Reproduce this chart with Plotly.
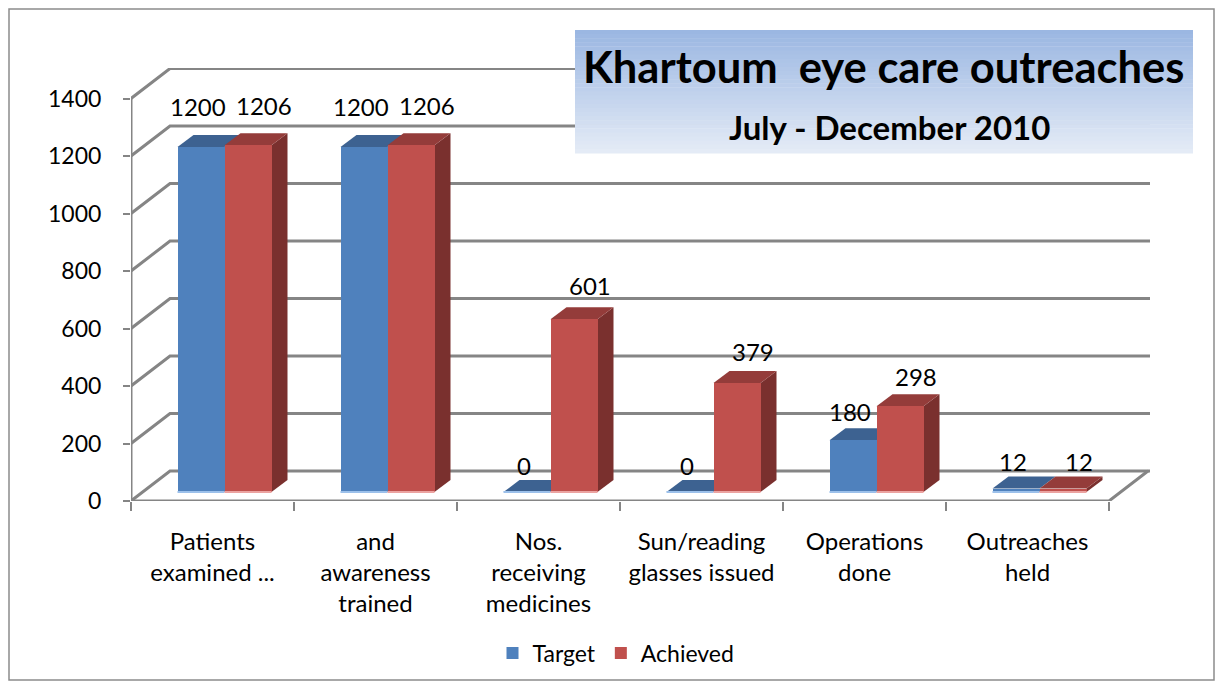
import plotly.graph_objects as go

# ---------------- data ----------------
categories = ["Patients<br>examined ...", "and<br>awareness<br>trained", "Nos.<br>receiving<br>medicines",
              "Sun/reading<br>glasses issued", "Operations<br>done", "Outreaches<br>held"]
target = [1200, 1200, 0, 0, 180, 12]
achieved = [1206, 1206, 601, 379, 298, 12]
y_ticks = [0, 200, 400, 600, 800, 1000, 1200, 1400]
title_text = "Khartoum  eye care outreaches"
subtitle_text = "July - December 2010"

# ---------------- geometry (pixel-based styling) ----------------
OFF = 8                         # page body margin
W, H = 1223 - OFF, 689 - OFF
ML = 131 - OFF
MR = W - (1150 - OFF)
MT = 68 - OFF
MB = H - (501 - OFF)
PW, PH = W - ML - MR, H - MT - MB
KX = 163.0                      # px per category
KY = 0.2875                     # px per value unit
Y0 = -9 / KY                    # front floor relative to bar base
XR = [-0.5, -0.5 + PW / KX]
YR = [Y0, Y0 + PH / KY]
WALL_DX, WALL_DY = 39 / KX, 30 / KY
BAR_DX, BAR_DY = 16 / KX, 12 / KY
BAR_W = 47 / KX
GROUP_SHIFT = 12 / KX
LBL_DX_BLUE, LBL_DX_RED = -3 / KX, 16 / KX


def lbl_dy(v):
    # labels of taller 3D bars sit a little higher (perspective)
    return 27 + 0.011 * v


BLUE, BLUE_TOP, BLUE_EDGE = "#4F81BD", "#3D6291", "#9CC0EA"
RED, RED_TOP, RED_SIDE, RED_EDGE = "#C0504D", "#943C3A", "#7A302E", "#EBA3A1"
GRID = "#858585"

def px_x(p):
    return (p - OFF - ML) / PW

def px_y(p):
    return (H - MB - (p - OFF)) / PH

n = len(categories)
xb = [i + GROUP_SHIFT - BAR_W / 2 for i in range(n)]
xr = [i + GROUP_SHIFT + BAR_W / 2 for i in range(n)]

fig = go.Figure()
fig.add_trace(go.Bar(x=xb, y=target, width=BAR_W, name="Target", marker=dict(color=BLUE, line=dict(width=0))))
fig.add_trace(go.Bar(x=xr, y=achieved, width=BAR_W, name="Achieved", marker=dict(color=RED, line=dict(width=0))))

shapes = []
# walls / gridlines
for v in y_ticks:
    yf, yb = v + Y0, v + Y0 + WALL_DY
    shapes.append(dict(type="path", xref="x", yref="y", layer="below",
                       path=f"M {XR[0]},{yf} L {XR[0]+WALL_DX},{yb} L {XR[1]},{yb}",
                       line=dict(color=GRID, width=3)))
# front y axis line
shapes.append(dict(type="line", xref="x", yref="y", layer="below", x0=XR[0], x1=XR[0],
                   y0=Y0, y1=y_ticks[-1] + Y0, line=dict(color=GRID, width=3)))
# floor front edge and right edge
fx1 = n - 0.5
shapes.append(dict(type="path", xref="x", yref="y", layer="below",
                   path=f"M {XR[0]},{Y0} L {fx1},{Y0} L {fx1+WALL_DX},{Y0+WALL_DY}",
                   line=dict(color=GRID, width=3)))

# bar depth faces
def quad(pts, color):
    p = "M " + " L ".join(f"{a},{b}" for a, b in pts) + " Z"
    return dict(type="path", xref="x", yref="y", layer="below", path=p,
                fillcolor=color, line=dict(width=0))

for i in range(n):
    x0, x1, v = xb[i] - BAR_W / 2, xb[i] + BAR_W / 2, target[i]
    shapes.append(quad([(x0, v), (x1, v), (x1 + BAR_DX, v + BAR_DY), (x0 + BAR_DX, v + BAR_DY)], BLUE_TOP))
for i in range(n):
    x0, x1, v = xr[i] - BAR_W / 2, xr[i] + BAR_W / 2, achieved[i]
    shapes.append(quad([(x1, 0), (x1, v), (x1 + BAR_DX, v + BAR_DY), (x1 + BAR_DX, BAR_DY)], RED_SIDE))
    shapes.append(quad([(x0, v), (x1, v), (x1 + BAR_DX, v + BAR_DY), (x0 + BAR_DX, v + BAR_DY)], RED_TOP))
# light base edges
for i in range(n):
    shapes.append(dict(type="line", xref="x", yref="y", layer="above", x0=xb[i] - BAR_W / 2, x1=xb[i] + BAR_W / 2,
                       y0=0, y1=0, line=dict(color=BLUE_EDGE, width=2)))
    shapes.append(dict(type="line", xref="x", yref="y", layer="above", x0=xr[i] - BAR_W / 2, x1=xr[i] + BAR_W / 2,
                       y0=0, y1=0, line=dict(color=RED_EDGE, width=2)))

# title box with gradient strips
bx0, bx1, by0, by1 = 575, 1193, 30, 153
c_top, c_bot = (155, 183, 226), (228, 235, 246)
N = 30
for k in range(N):
    t = k / (N - 1)
    c = tuple(round(c_top[j] + (c_bot[j] - c_top[j]) * t) for j in range(3))
    ya = by0 + (by1 - by0) * k / N
    yb2 = by0 + (by1 - by0) * (k + 1) / N
    shapes.append(dict(type="rect", xref="paper", yref="paper", layer="above",
                       x0=px_x(bx0), x1=px_x(bx1), y0=px_y(ya), y1=px_y(yb2) - 0.001,
                       fillcolor=f"rgb{c}", line=dict(width=0)))
# outer border
shapes.append(dict(type="rect", xref="paper", yref="paper", layer="above",
                   x0=px_x(9), x1=px_x(1214), y0=px_y(680), y1=px_y(9),
                   line=dict(color="#8C8C8C", width=1.5)))

FONT = "Lato"
annotations = []
for i in range(n):
    annotations.append(dict(x=xb[i] + LBL_DX_BLUE, y=target[i], xref="x", yref="y", text=str(target[i]),
                            showarrow=False, yshift=lbl_dy(target[i]), xanchor="center", yanchor="middle",
                            font=dict(size=24, color="black", family=FONT)))
    annotations.append(dict(x=xr[i] + LBL_DX_RED, y=achieved[i], xref="x", yref="y", text=str(achieved[i]),
                            showarrow=False, yshift=lbl_dy(achieved[i]), xanchor="center", yanchor="middle",
                            font=dict(size=24, color="black", family=FONT)))
annotations.append(dict(x=px_x(883), y=px_y(66), xref="paper", yref="paper", xanchor="center", yanchor="middle",
                        text="<b>" + title_text.replace("  ", "&nbsp; ") + "</b>",
                        showarrow=False, font=dict(size=43.5, color="black", family=FONT)))
annotations.append(dict(x=px_x(889), y=px_y(127), xref="paper", yref="paper", xanchor="center", yanchor="middle",
                        text=f"<b>{subtitle_text}</b>",
                        showarrow=False, font=dict(size=33, color="black", family=FONT)))

fig.update_layout(
    width=W, height=H,
    margin=dict(l=ML, r=MR, t=MT, b=MB, autoexpand=False),
    paper_bgcolor="white", plot_bgcolor="white",
    showlegend=True,
    legend=dict(orientation="h", x=px_x(616), xanchor="center", y=px_y(653), yanchor="middle",
                font=dict(size=23, family=FONT, color="black"), itemwidth=30),
    shapes=shapes, annotations=annotations,
    font=dict(family=FONT, color="black"),
    bargap=0, barmode="overlay",
)
fig.update_xaxes(range=XR, tickmode="array", tickvals=list(range(n)), ticktext=categories,
                 ticks="", showgrid=False, zeroline=False, showline=False,
                 tickfont=dict(size=24, family=FONT, color="black"), ticklabelstandoff=24,
                 minor=dict(tickmode="array", tickvals=[i - 0.5 for i in range(n + 1)], ticks="outside",
                            ticklen=9, tickwidth=2, tickcolor=GRID))
fig.update_yaxes(range=YR, tickmode="array", tickvals=[v + Y0 for v in y_ticks], ticktext=[str(v) for v in y_ticks],
                 ticks="outside", ticklen=7, tickwidth=2, tickcolor=GRID,
                 showgrid=False, zeroline=False, showline=False,
                 tickfont=dict(size=23, family=FONT, color="black"), ticklabelstandoff=17)

fig.write_html("out.html")
